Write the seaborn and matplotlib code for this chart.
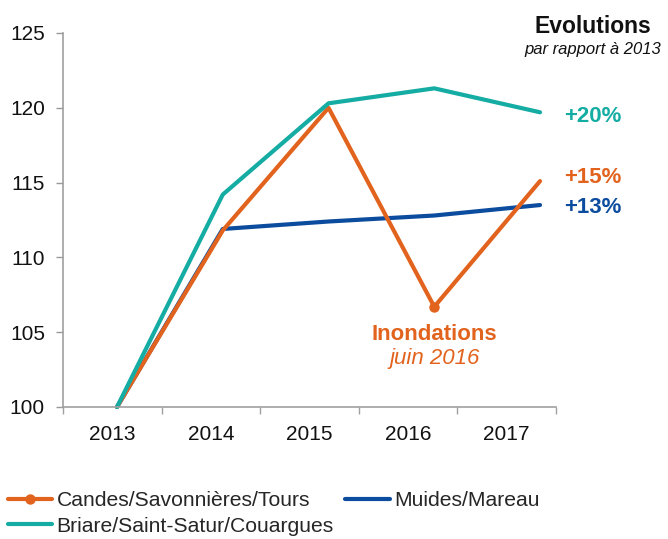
import pandas as pd
import matplotlib
matplotlib.use("Agg")
import matplotlib.pyplot as plt
import seaborn as sns

# Chart data (index base 100 in 2013)
years = ["2013", "2014", "2015", "2016", "2017"]
candes = [100, 111.8, 120.0, 106.7, 115.1]
muides = [100, 111.9, 112.4, 112.8, 113.5]
briare = [100, 114.2, 120.3, 121.3, 119.7]
labels_end = ["+20%", "+15%", "+13%"]

names = ["Candes/Savonnières/Tours", "Muides/Mareau", "Briare/Saint-Satur/Couargues"]
colors = {"Candes/Savonnières/Tours": "#E2631D",
          "Muides/Mareau": "#0C4C9E",
          "Briare/Saint-Satur/Couargues": "#14ACA3"}

df = pd.DataFrame({
    "idx": list(range(len(years))) * 3,
    "value": candes + muides + briare,
    "serie": [names[0]] * 5 + [names[1]] * 5 + [names[2]] * 5,
})

sns.set_style("white")
plt.rcParams["font.family"] = ["Liberation Sans", "DejaVu Sans"]

fig = plt.figure(figsize=(6.68, 5.39), dpi=100)
ax = fig.add_axes([63 / 668, 1 - 407 / 539, (556 - 63) / 668, (407 - 33) / 539])

# draw order: blue, orange, teal
handles = {}
for name in [names[1], names[0], names[2]]:
    sub = df[df["serie"] == name]
    kw = {}
    if name == names[0]:
        kw = dict(marker="o", markevery=[3], markersize=7.5,
                  markeredgewidth=0, markerfacecolor=colors[name])
    sns.lineplot(data=sub, x="idx", y="value", ax=ax, color=colors[name],
                 linewidth=3, legend=False, clip_on=False,
                 solid_capstyle="round", **kw)
    handles[name] = ax.lines[-1]

ax.set_xlim(-0.5106, 4.151)
ax.set_ylim(100, 125)
ax.set_yticks([100, 105, 110, 115, 120, 125])
ax.set_xticks([])
ax.set_xlabel("")
ax.set_ylabel("")
ax.tick_params(axis="y", left=True, length=5, width=1, color="#999999",
               pad=8, labelsize=15, labelcolor="#111111")
for s in ["top", "right"]:
    ax.spines[s].set_visible(False)
for s in ["left", "bottom"]:
    ax.spines[s].set_color("#A0A0A0")
    ax.spines[s].set_linewidth(1.2)

# category axis for year labels
ax2 = ax.twiny()
ax2.set_xlim(-0.5, 4.5)
ax2.xaxis.set_ticks_position("bottom")
ax2.set_xticks(range(len(years)))
ax2.set_xticklabels(years)
ax2.set_xticks([i - 0.5 for i in range(len(years) + 1)], minor=True)
ax2.tick_params(axis="x", which="major", length=0, pad=13, labelsize=15,
                labelcolor="#111111")
ax2.tick_params(axis="x", which="minor", length=5, width=1, color="#A0A0A0")
for s in ax2.spines.values():
    s.set_visible(False)

# annotations
yt = ax.get_yaxis_transform()
ax.text(1.075, 119.07, labels_end[0], transform=yt, ha="center", va="baseline",
        fontsize=16, fontweight="bold", color=colors[names[2]], clip_on=False)
ax.text(1.075, 114.99, labels_end[1], transform=yt, ha="center", va="baseline",
        fontsize=16, fontweight="bold", color=colors[names[0]], clip_on=False)
ax.text(1.075, 112.95, labels_end[2], transform=yt, ha="center", va="baseline",
        fontsize=16, fontweight="bold", color=colors[names[1]], clip_on=False)

ax.text(3, 104.48, "Inondations", ha="center", va="baseline", fontsize=16,
        fontweight="bold", color=colors[names[0]])
ax.text(3, 102.85, "juin 2016", ha="center", va="baseline", fontsize=16,
        fontstyle="italic", color=colors[names[0]])

fig.text(593 / 668, 1 - 33 / 539, "Evolutions", ha="center", va="baseline",
         fontsize=16.5, fontweight="bold", color="#111111")
fig.text(593 / 668, 1 - 54.3 / 539, "par rapport à 2013", ha="center",
         va="baseline", fontsize=12, fontstyle="italic", color="#111111")

fig.legend([handles[names[0]], handles[names[2]], handles[names[1]]],
           [names[0], names[2], names[1]],
           loc="upper left", bbox_to_anchor=(8 / 668, 1 - 491 / 539),
           ncol=2, frameon=False, fontsize=15.2, borderpad=0, borderaxespad=0,
           handlelength=2.1, handletextpad=0.2, columnspacing=0.55,
           labelspacing=0.32)

fig.savefig("out.png", dpi=100)
